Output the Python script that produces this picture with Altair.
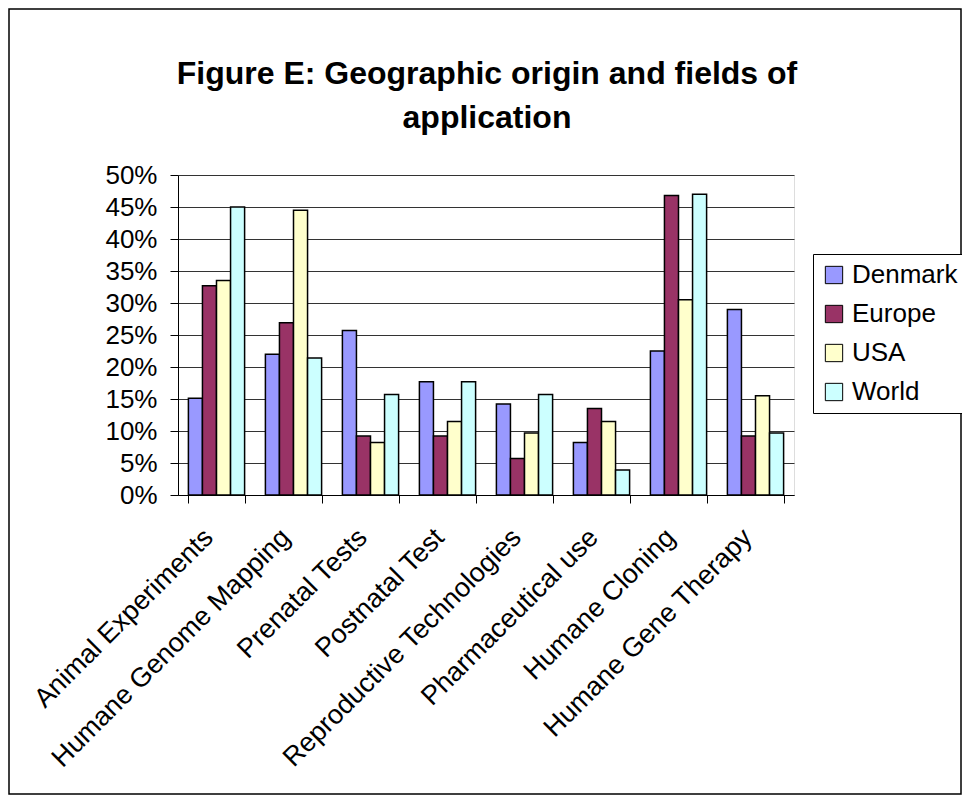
import altair as alt
import pandas as pd

categories = ["Animal Experiments", "Humane Genome Mapping", "Prenatal Tests",
              "Postnatal Test", "Reproductive Technologies", "Pharmaceutical use",
              "Humane Cloning", "Humane Gene Therapy"]
series = ["Denmark", "Europe", "USA", "World"]
denmark = [15.1, 22.0, 25.7, 17.7, 14.2, 8.2, 22.5, 29.0]
europe = [32.7, 26.9, 9.2, 9.2, 5.7, 13.5, 46.8, 9.2]
usa = [33.5, 44.5, 8.2, 11.5, 9.7, 11.5, 30.5, 15.5]
world = [45.0, 21.4, 15.7, 17.7, 15.7, 3.9, 47.0, 9.7]
colors = ["#9999FF", "#993366", "#FFFFCC", "#CCFFFF"]
y_ticks = [0, 0.05, 0.10, 0.15, 0.20, 0.25, 0.30, 0.35, 0.40, 0.45, 0.50]
title_lines = ["Figure E: Geographic origin and fields of", "application"]

rows = []
for s, vals in zip(series, [denmark, europe, usa, world]):
    for c, v in zip(categories, vals):
        rows.append({"category": c, "series": s, "value": v / 100})
df = pd.DataFrame(rows)

FONT = "Liberation Sans"
W, H = 616, 320

bars = alt.Chart(df).mark_bar(stroke="black", strokeWidth=1.5).encode(
    x=alt.X("category:N", sort=categories,
            scale=alt.Scale(paddingInner=0.27, paddingOuter=0.135),
            axis=alt.Axis(title=None, labelAngle=-45, labelAlign="right",
                          labelBaseline="middle", labelFontSize=27, labelFont=FONT,
                          labelColor="black", tickBand="extent", tickSize=8,
                          tickColor="black", domainColor="black", labelPadding=30,
                          labelOffset=-8, labelLimit=0, grid=False)),
    xOffset=alt.XOffset("series:N", sort=series),
    y=alt.Y("value:Q", scale=alt.Scale(domain=[0, 0.5], nice=False),
            axis=alt.Axis(title=None, format=".0%", values=y_ticks,
                          labelFontSize=26, labelFont=FONT, labelColor="black",
                          tickSize=8, tickColor="black", domainColor="black",
                          gridColor="#333333", gridWidth=1, labelPadding=13)),
    color=alt.Color("series:N", sort=series,
                    scale=alt.Scale(domain=series, range=colors),
                    legend=alt.Legend(title=None, orient="none", legendX=635, legendY=79,
                                      labelFontSize=26, labelFont=FONT, labelColor="black",
                                      symbolType="square", symbolSize=300,
                                      symbolStrokeColor="black", symbolStrokeWidth=1,
                                      rowPadding=13, padding=8, strokeColor="black",
                                      fillColor="white", labelOffset=5)),
)

border = alt.Chart(alt.Data(values=[{}])).mark_rect(
    fill="transparent", stroke="black", strokeWidth=1.5
).encode(
    x=alt.value(-169), x2=alt.value(W + 167),
    y=alt.value(-166), y2=alt.value(H + 299),
)

title1 = alt.Chart(alt.Data(values=[{}])).mark_text(
    font=FONT, fontSize=32, fontWeight="bold", color="black",
    align="center", baseline="alphabetic"
).encode(x=alt.value(W / 2 + 1), y=alt.value(-91), text=alt.value(title_lines[0]))

title2 = alt.Chart(alt.Data(values=[{}])).mark_text(
    font=FONT, fontSize=32, fontWeight="bold", color="black",
    align="center", baseline="alphabetic"
).encode(x=alt.value(W / 2 + 1), y=alt.value(-47), text=alt.value(title_lines[1]))

chart = alt.layer(border, bars, title1, title2).properties(
    width=W, height=H,
    autosize=alt.AutoSizeParams(type="none"),
    padding={"left": 170, "top": 167, "right": 168, "bottom": 300},
).configure_view(fill="#C0C0C0", stroke="#808080", strokeWidth=1.5
).configure(background="white")

chart.save("out.html", embed_options={"renderer": "svg", "actions": False})
